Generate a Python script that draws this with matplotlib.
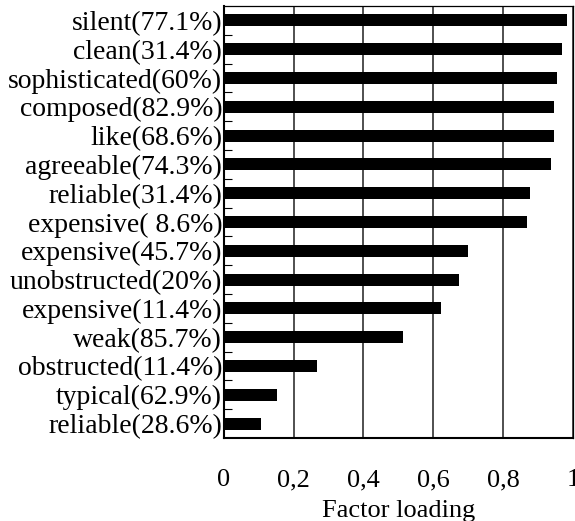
import numpy as np
import matplotlib.pyplot as plt
from matplotlib.ticker import FixedLocator

labels = ["silent(77.1%)", "clean(31.4%)", "sophisticated(60%)", "composed(82.9%)",
          "like(68.6%)", "agreeable(74.3%)", "reliable(31.4%)", "expensive( 8.6%)",
          "expensive(45.7%)", "unobstructed(20%)", "expensive(11.4%)", "weak(85.7%)",
          "obstructed(11.4%)", "typical(62.9%)", "reliable(28.6%)"]
loadings = [0.984, 0.968, 0.954, 0.946, 0.946, 0.938, 0.878, 0.867,
            0.700, 0.674, 0.622, 0.513, 0.268, 0.154, 0.106]
xticks = [0, 0.2, 0.4, 0.6, 0.8, 1.0]
xticklabels = ["0", "0,2", "0,4", "0,6", "0,8", "1"]

plt.rcParams['font.family'] = ['Liberation Serif', 'DejaVu Serif']

fig = plt.figure(figsize=(5.75, 5.21), dpi=100)
ax = fig.add_axes([0.389, 0.1593, 0.6075, 0.8292])

n = len(labels)
y = np.arange(n)[::-1]
ax.barh(y, loadings, height=0.42, color='black', zorder=3)

ax.set_xlim(0, 1)
ax.set_ylim(-0.5, n - 0.5)
ax.set_yticks(y)
ax.set_yticklabels(labels, fontsize=20)
ax.yaxis.set_minor_locator(FixedLocator(np.arange(0.5, n - 1, 1)))
ax.tick_params(axis='y', which='major', length=0, pad=1)
ax.tick_params(axis='y', which='minor', direction='in', length=6, width=0.8)

ax.set_xticks(xticks)
ax.set_xticklabels(xticklabels, fontsize=19)
ax.tick_params(axis='x', length=0, pad=22.5)
ax.set_xlabel("Factor loading", fontsize=19, labelpad=6)

ax.grid(axis='x', color='0.12', linewidth=1.1, zorder=0)
for s in ax.spines.values():
    s.set_linewidth(0.9)
    s.set_color('black')
ax.spines['left'].set_linewidth(1.5)
ax.spines['bottom'].set_linewidth(1.5)

fig.savefig("out.png", dpi=100)
